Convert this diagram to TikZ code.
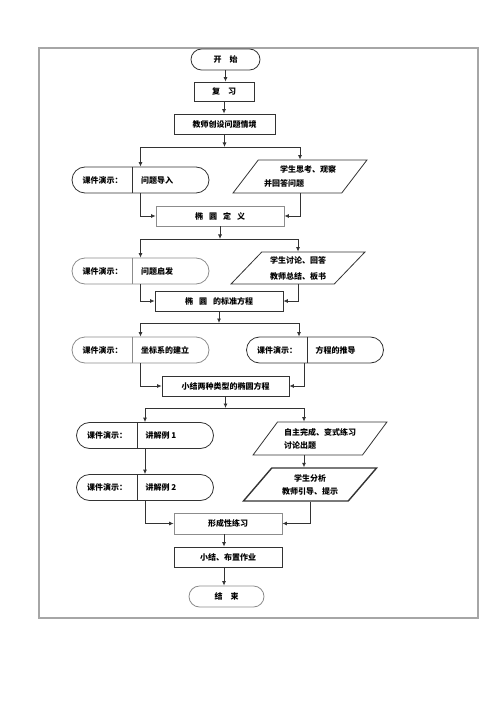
\documentclass[tikz,border=0pt]{standalone}
\usepackage{fontspec}
\setmainfont{Noto Sans CJK SC}
\usetikzlibrary{arrows.meta,shapes.geometric}

\begin{document}
\begin{tikzpicture}[x=1pt,y=-1pt,
    font=\fontsize{8}{13}\selectfont\bfseries,
    wire/.style={draw=black!80, line width=0.8pt},
    arr/.style={wire, -{Latex[length=4.5pt,width=4pt]}},
    box/.style={wire, rectangle, inner sep=0pt, minimum height=20},
    pale/.style={draw=black!45},
    term/.style={box, rounded corners=10.5, minimum height=21},
    pill/.style={box, rounded corners=13, minimum width=137, minimum height=26},
    para/.style={box, trapezium, trapezium left angle=45, trapezium right angle=135,
        trapezium stretches=true, minimum width=134, minimum height=33}]

    \useasboundingbox (0,0) rectangle (500,708);
    \draw[draw=black!35, line width=1.2pt] (39,48) rectangle (478,618);

    \node[term] (start) at (225.5,59.5) [minimum width=69] {开\quad 始};
    \node[box] (rev) at (224,91.5) [minimum width=60, minimum height=19] {复\quad 习};
    \node[box] (intro) at (224.5,124) [minimum width=101] {教师创设问题情境};
    \node[box, pale] (def) at (220,216) [minimum width=128] {椭\hspace{6pt}圆\hspace{6pt}定\hspace{6pt}义};
    \node[box] (std) at (219,301) [minimum width=128] {椭\hspace{6pt}圆\hspace{6pt}的标准方程};
    \node[box] (sum) at (225.5,386) [minimum width=127] {小结两种类型的椭圆方程};
    \node[box, pale] (prac) at (228,523.5) [minimum width=108, minimum height=21] {形成性练习};
    \node[box] (hw) at (228,557) [minimum width=108] {小结、布置作业};
    \node[term, pale] (end) at (226.5,596.5) [minimum width=75] {结\quad 束};

    \coordinate (j1) at (224.5,147);
    \coordinate (j2) at (220,239);
    \coordinate (j3) at (219,323);
    \coordinate (j4) at (225.5,408);

    \foreach \n/\x/\y/\c/\t in {pA/140.5/180/black!80/问题导入, pB/140.5/271/black!45/问题启发,
        pC/140.5/350/black!45/坐标系的建立, pD/315/350/black!80/方程的推导,
        pE/145/435.5/black!80/讲解例 1, pF/145/487.5/black!80/讲解例 2} {
        \node[pill, draw=\c] (\n) at (\x,\y) {};
        \draw[draw=\c, line width=0.8pt] ([xshift=61]\n.north west) -- ([xshift=61]\n.south west);
        \node at ([xshift=31]\n.west) {课件演示：};
        \node[anchor=west] at ([xshift=66]\n.west) {\t};
    }

    \node[para, font=\fontsize{8}{14}\selectfont\bfseries, align=left] (qA) at (300,176.5) {\hspace{2em}学生思考、观察\\并回答问题};
    \node[para, font=\fontsize{8}{16}\selectfont\bfseries, align=center, minimum height=32] (qB) at (298,268) {学生讨论、回答\\教师总结、板书};
    \node[para, align=left] (qC) at (320,438.5) {自主完成、变式练习\\讨论出题};
    \node[para, align=center, line width=1.4pt] (qD) at (310,484.5) {学生分析\\教师引导、提示};

    \draw[arr] (start) -- (start |- rev.north);
    \draw[arr] (rev) -- (rev |- intro.north);
    \draw[arr] (intro) -- (j1);
    \draw[arr] (j1) -| (pA);
    \draw[arr] (j1) -| (qA);
    \draw[arr] (pA) |- (def);
    \draw[arr] (qA) |- (def);

    \draw[arr] (def) -- (j2);
    \draw[arr] (j2) -| (pB);
    \draw[arr] (j2) -| (qB);
    \draw[arr] (pB) |- (std);
    \draw[arr] (qB) |- (std);

    \draw[arr] (std) -- (j3);
    \draw[arr] (j3) -| (pC);
    \draw[arr] (j3) -| ([xshift=-16]pD.north);
    \draw[arr] (pC) |- (sum);
    \draw[arr] ([xshift=-11]pD.south) |- (sum);

    \draw[arr] (sum) -- (j4);
    \draw[arr] (j4) -| (pE);
    \draw[arr] (j4) -| ([xshift=-16]qC.north);
    \draw[arr] (pE) -- (pF);
    \draw[arr] ([xshift=-16]qC.south) -- ([xshift=-16]qC.south |- qD.north);
    \draw[arr] (pF) |- (prac);
    \draw[arr] (qD) |- (prac);

    \draw[arr] ([xshift=-4]prac.south) -- ([xshift=-4]prac.south |- hw.north);
    \draw[arr] ([xshift=-4]hw.south) -- ([xshift=-4]hw.south |- end.north);
\end{tikzpicture}
\end{document}
